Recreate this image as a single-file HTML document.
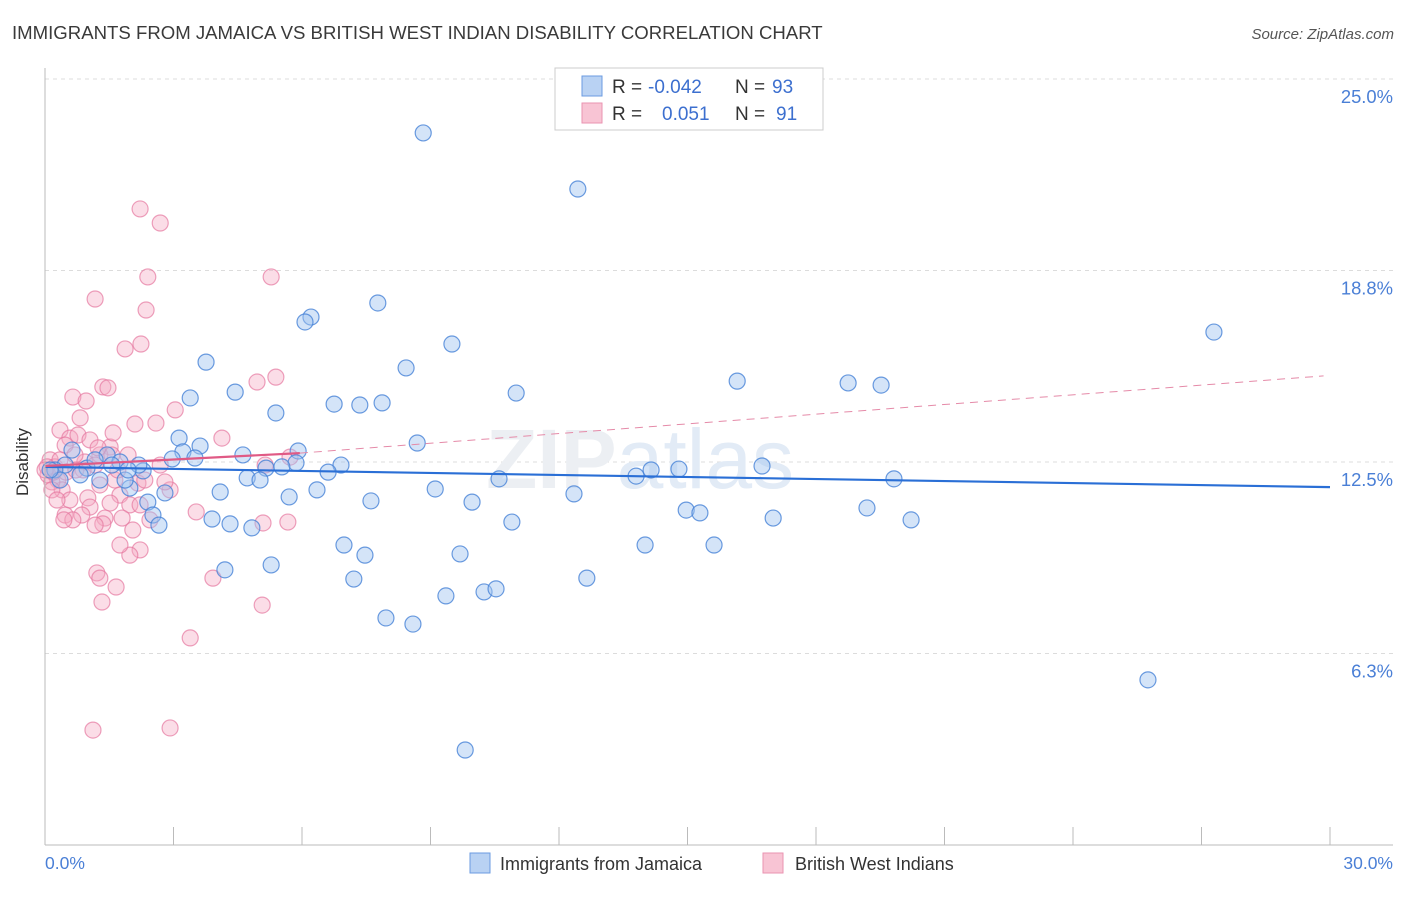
<!DOCTYPE html>
<html><head><meta charset="utf-8"><style>
body{margin:0;background:#fff;font-family:"Liberation Sans",sans-serif;}
svg text{font-family:"Liberation Sans",sans-serif;}
</style></head><body>
<svg id="chart" width="1406" height="892">
<text x="12" y="39" font-size="18.6" fill="#3a3a3a">IMMIGRANTS FROM JAMAICA VS BRITISH WEST INDIAN DISABILITY CORRELATION CHART</text>
<text x="1394" y="39" font-size="15" fill="#555" font-style="italic" text-anchor="end">Source: ZipAtlas.com</text>
<g id="grid"></g>
<text x="640" y="488" font-size="84" fill="#eceff3" font-family="Liberation Serif" font-weight="bold" text-anchor="middle">ZIP<tspan font-family="Liberation Sans" font-weight="normal" fill="#e2ebf6">atlas</tspan></text>
<g id="pts"></g>
<g id="trend"></g>
<g id="axes"></g>
<text x="22" y="456" font-size="17" fill="#333" text-anchor="middle" transform="rotate(-90 28 456)">Disability</text>
<g>
<rect x="555" y="68" width="268" height="62" fill="#fff" stroke="#ccc"/>
<rect x="582" y="76" width="20" height="20" fill="#b9d2f3" stroke="#6b9be0"/>
<rect x="582" y="103" width="20" height="20" fill="#f8c4d4" stroke="#ea93b1"/>
<text x="612" y="93" font-size="19" fill="#333">R =</text>
<text x="648" y="93" font-size="19" fill="#3c6fcf">-0.042</text>
<text x="735" y="93" font-size="19" fill="#333">N =</text>
<text x="772" y="93" font-size="19" fill="#3c6fcf">93</text>
<text x="612" y="120" font-size="19" fill="#333">R =</text>
<text x="662" y="120" font-size="19" fill="#3c6fcf">0.051</text>
<text x="735" y="120" font-size="19" fill="#333">N =</text>
<text x="776" y="120" font-size="19" fill="#3c6fcf">91</text>
</g>
<g>
<rect x="470" y="853" width="20" height="20" fill="#b9d2f3" stroke="#6b9be0"/>
<text x="500" y="870" font-size="18" fill="#333">Immigrants from Jamaica</text>
<rect x="763" y="853" width="20" height="20" fill="#f8c4d4" stroke="#ea93b1"/>
<text x="795" y="870" font-size="18" fill="#333">British West Indians</text>
</g>
</svg>
<script>
const blueX=[8.83,12.44,27.29,7.77,6.21,6.07,9.50,3.76,8.43,16.16,18.75,19.52,4.44,11.00,3.39,6.75,7.35,7.87,5.39,8.69,3.13,5.91,3.62,3.22,3.50,2.97,4.62,5.86,5.16,5.53,6.91,16.74,2.29,13.80,14.15,14.80,19.82,6.61,10.60,4.72,5.02,4.09,9.11,12.35,6.35,5.70,7.61,9.97,2.80,2.40,1.98,2.19,1.45,1.75,0.98,1.28,19.19,14.97,15.29,17.00,20.22,10.90,2.52,2.66,3.90,4.32,4.83,6.98,7.47,9.69,14.01,15.62,4.20,5.28,7.21,12.65,9.36,10.25,10.53,7.96,8.59,25.75,9.81,0.63,0.47,0.23,0.35,0.12,0.82,1.17,1.56,1.87,1.94];
const blueY=[23.24,21.41,16.74,17.69,17.23,17.07,16.35,15.76,15.57,15.14,15.08,15.01,14.78,14.75,14.59,14.39,14.36,14.43,14.10,13.12,13.28,12.86,13.02,12.83,12.63,12.60,12.73,12.47,12.30,12.34,12.40,12.37,12.21,12.04,12.24,12.27,11.95,12.17,11.95,11.98,11.91,11.52,11.62,11.46,11.59,11.36,11.23,11.19,11.49,11.19,11.65,12.40,12.73,12.50,12.30,11.91,11.00,10.93,10.84,10.67,10.61,10.54,10.77,10.44,10.64,10.48,10.35,9.79,9.46,9.50,9.79,9.79,8.98,9.14,8.68,8.71,8.13,8.26,8.36,7.41,7.21,5.39,3.10,12.89,12.40,12.24,11.91,12.24,12.08,12.57,12.40,11.91,12.24];
const pinkX=[2.22,2.69,2.40,5.28,1.17,2.36,2.24,1.87,5.39,4.95,1.35,1.47,0.65,0.96,3.04,2.10,2.59,0.82,0.35,0.58,0.77,1.05,0.47,1.52,4.13,1.94,1.28,0.93,1.17,0.12,0.23,0.07,0.30,0.40,0.16,2.92,2.80,2.17,1.63,1.28,1.75,1.00,0.58,1.05,1.52,1.98,0.47,0.86,1.40,3.53,1.80,5.09,5.67,2.45,2.05,1.35,2.22,1.98,1.21,1.28,3.92,1.66,5.07,1.33,3.39,1.12,2.92,5.14,5.72,0.05,0.19,0.35,0.49,0.70,0.89,1.70,2.33,1.56,0.16,0.28,0.65,1.17,1.75,1.59,1.24,0.72,0.44,2.22,2.69,0.00];
const pinkY=[20.76,20.30,18.54,18.54,17.82,17.46,16.35,16.19,15.27,15.11,14.95,14.92,14.62,14.49,14.20,13.74,13.77,13.94,13.54,13.28,13.38,13.22,13.05,12.99,13.28,12.73,12.73,12.50,12.40,12.57,12.34,12.08,11.91,11.59,11.85,11.59,11.85,11.81,11.91,11.75,11.42,11.33,11.26,11.03,11.16,11.10,10.77,10.77,10.67,10.87,10.67,10.51,10.54,10.61,10.28,10.48,9.63,9.46,8.88,8.71,8.71,8.42,7.83,7.93,6.76,3.75,3.82,12.40,12.66,12.34,12.17,12.57,12.17,12.73,12.24,12.24,11.91,12.73,11.59,11.26,10.61,10.44,9.79,13.45,12.96,12.24,10.61,11.10,12.40,12.24];
const yTicks=[25,18.75,12.5,6.25];
const yTickLabels=["25.0%","18.8%","12.5%","6.3%"];
const xTicks=[0,3,6,9,12,15,18,21,24,27,30];
const blueTrend=[12.34,11.68];
const pinkTrend=[12.37,12.79,15.31];
const pinkTrendX=[0,5.95,29.85];

const NS="http://www.w3.org/2000/svg";
const X0=45,X1=1330,YB=845,YT=79;
const sx=v=>X0+(v/30)*(X1-X0);
const sy=v=>YB-(v/25)*(YB-YT);
function mk(tag,attrs,parent){const e=document.createElementNS(NS,tag);for(const k in attrs)e.setAttribute(k,attrs[k]);parent.appendChild(e);return e;}
const grid=document.getElementById('grid'),axes=document.getElementById('axes'),pts=document.getElementById('pts'),tr=document.getElementById('trend');
yTicks.forEach((t,i)=>{
  const l=mk('line',{x1:X0,x2:1393,y1:sy(t),y2:sy(t),stroke:'#dcdcdc','stroke-dasharray':'4,4'},grid);
  
  
  const tx=mk('text',{x:1393,y:sy(t)+24,'font-size':18.4,fill:'#4a7fd6','text-anchor':'end'},axes);
  tx.textContent=yTickLabels[i];
  
  
});
const ax=mk('line',{x1:X0,x2:X0,y1:68,y2:YB,stroke:'#bbb'},axes);


const bx=mk('line',{x1:X0,x2:1393,y1:YB,y2:YB,stroke:'#bbb'},axes);


xTicks.forEach(t=>{
  const l=mk('line',{x1:sx(t),x2:sx(t),y1:YB,y2:YB-18,stroke:'#bbb'},axes);
  
  
});
const xl0=mk('text',{x:45,y:869,'font-size':17.5,fill:'#4a7fd6'},axes);xl0.textContent='0.0%';


const xl1=mk('text',{x:1393,y:869,'font-size':17.5,fill:'#4a7fd6','text-anchor':'end'},axes);xl1.textContent='30.0%';


pinkX.forEach((v,i)=>{
  const c=mk('circle',{cx:sx(v),cy:sy(pinkY[i]),r:8,fill:'rgba(245,170,195,0.4)',stroke:'rgba(230,120,160,0.7)','stroke-width':1.2},pts);
  
  
});
blueX.forEach((v,i)=>{
  const c=mk('circle',{cx:sx(v),cy:sy(blueY[i]),r:8,fill:'rgba(160,195,240,0.45)',stroke:'rgba(70,130,215,0.8)','stroke-width':1.2},pts);
  
  
});
const bt=mk('line',{x1:sx(0),y1:sy(blueTrend[0]),x2:sx(30),y2:sy(blueTrend[1]),stroke:'#2a6fd6','stroke-width':2.2},tr);


const pd=mk('line',{x1:sx(pinkTrendX[1]),y1:sy(pinkTrend[1]),x2:sx(pinkTrendX[2]),y2:sy(pinkTrend[2]),stroke:'#e58aa8','stroke-width':1,'stroke-dasharray':'8,6'},tr);


const ps=mk('line',{x1:sx(pinkTrendX[0]),y1:sy(pinkTrend[0]),x2:sx(pinkTrendX[1]),y2:sy(pinkTrend[1]),stroke:'#e05a85','stroke-width':2.2},tr);


</script>
</body></html>
